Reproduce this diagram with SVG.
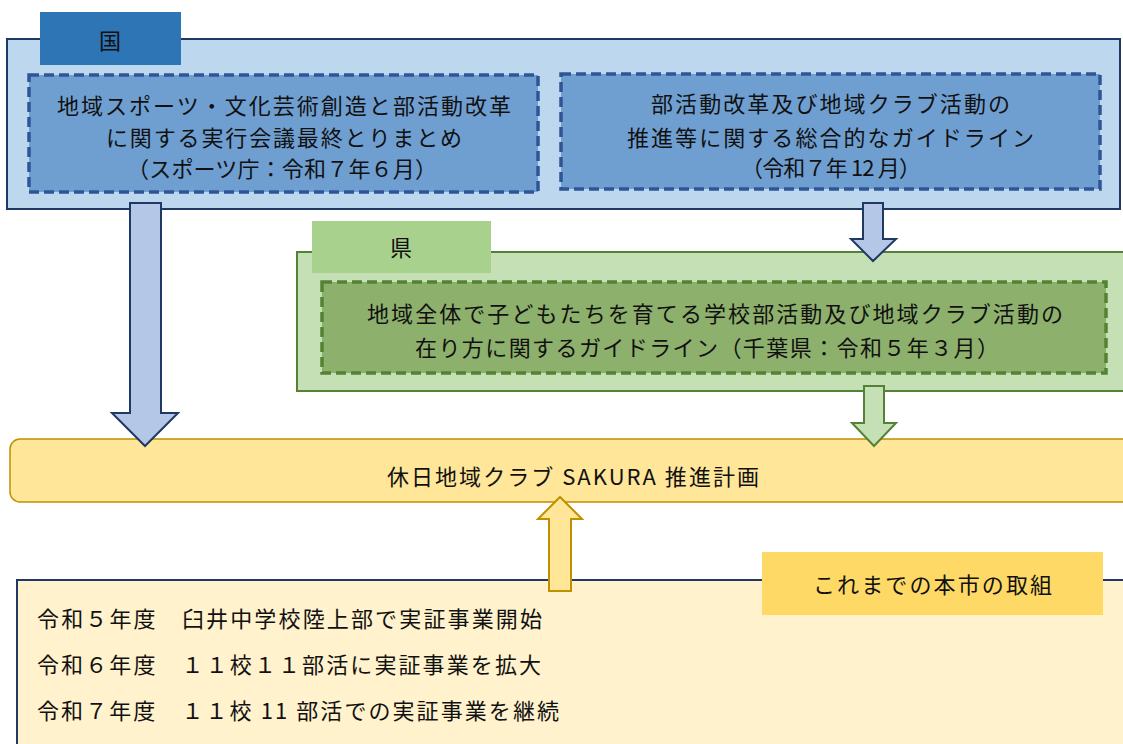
<svg xmlns="http://www.w3.org/2000/svg" width="1123" height="744" viewBox="0 0 1123 744">
<style>
text{font-family:"Noto Sans CJK JP","Noto Sans",sans-serif;font-size:22px;fill:#111;}
.outerB{fill:#bdd7ee;stroke:#1f3864;stroke-width:2;}
.dashB{fill:#6f9fd1;stroke:#2f5597;stroke-width:3.5;stroke-dasharray:10 5;}
.outerG{fill:#c5e0b4;stroke:#548235;stroke-width:2;}
.dashG{fill:#8db06c;stroke:#548235;stroke-width:3.5;stroke-dasharray:10 5;}
.arB{fill:#b4c7e7;stroke:#1f3864;stroke-width:2;stroke-linejoin:miter;}
.arG{fill:#c5e0b4;stroke:#548235;stroke-width:2;}
.arY{fill:#ffe699;stroke:#bf9000;stroke-width:2;}
</style>
<rect width="1123" height="744" fill="#ffffff"/>
<g id="kuni">
<rect class="outerB" x="7" y="39" width="1113" height="170"/>
<rect x="40" y="12" width="141" height="53" fill="#2e75b6"/>
<text x="110" y="49" text-anchor="middle">国</text>
</g>
<g id="kuni-doc1">
<rect class="dashB" x="29" y="75" width="509" height="117"/>
<text x="57" y="114" textLength="454" lengthAdjust="spacing">地域スポーツ・文化芸術創造と部活動改革</text>
<text x="106" y="146" textLength="356" lengthAdjust="spacing">に関する実行会議最終とりまとめ</text>
<text x="127" y="177" textLength="310" lengthAdjust="spacing">（スポーツ庁：令和７年６月）</text>
</g>
<g id="kuni-doc2">
<rect class="dashB" x="561" y="74" width="539" height="115"/>
<text x="651" y="112" textLength="359" lengthAdjust="spacing">部活動改革及び地域クラブ活動の</text>
<text x="627" y="146" textLength="407" lengthAdjust="spacing">推進等に関する総合的なガイドライン</text>
<text x="741" y="176" textLength="180" lengthAdjust="spacing">（令和７年 12 月）</text>
</g>
<g id="ken">
<rect class="outerG" x="297" y="252" width="830" height="139"/>
<rect x="312" y="221" width="179" height="52" fill="#a9d18e"/>
<text x="401" y="256" text-anchor="middle">県</text>
</g>
<g id="ken-doc">
<rect class="dashG" x="322" y="282" width="784" height="91"/>
<text x="367" y="322" textLength="696" lengthAdjust="spacing">地域全体で子どもたちを育てる学校部活動及び地域クラブ活動の</text>
<text x="415" y="356" textLength="584" lengthAdjust="spacing">在り方に関するガイドライン（千葉県：令和５年３月）</text>
</g>
<g id="plan">
<rect x="10" y="439" width="1125" height="63" rx="10" ry="10" fill="#ffe699" stroke="#bf9000" stroke-width="1.5"/>
<text x="387" y="485" textLength="372" lengthAdjust="spacing">休日地域クラブ SAKURA 推進計画</text>
</g>
<g id="city">
<rect x="17" y="580" width="1120" height="180" fill="#fff2cc" stroke="#1f3864" stroke-width="2"/>
<rect x="762" y="552" width="341" height="63" fill="#ffd966"/>
<text x="813" y="593" textLength="239" lengthAdjust="spacing">これまでの本市の取組</text>
<text x="37" y="627" textLength="505" lengthAdjust="spacing">令和５年度　臼井中学校陸上部で実証事業開始</text>
<text x="37" y="673" textLength="504" lengthAdjust="spacing">令和６年度　１１校１１部活に実証事業を拡大</text>
<text x="37" y="719" textLength="522" lengthAdjust="spacing">令和７年度　１１校 11 部活での実証事業を継続</text>
</g>
<g id="connectors">
<polygon class="arB" points="130,203 161,203 161,413 178,413 145,446 112,413 130,413"/>
<polygon class="arB" points="863,203 883,203 883,239 896,239 873,261 851,239 863,239"/>
<polygon class="arG" points="864,386 884,386 884,423 896,423 874,446 852,423 864,423"/>
<polygon class="arY" points="560,497 582,519 571,519 571,591 549,591 549,519 538,519"/>
</g>
</svg>
